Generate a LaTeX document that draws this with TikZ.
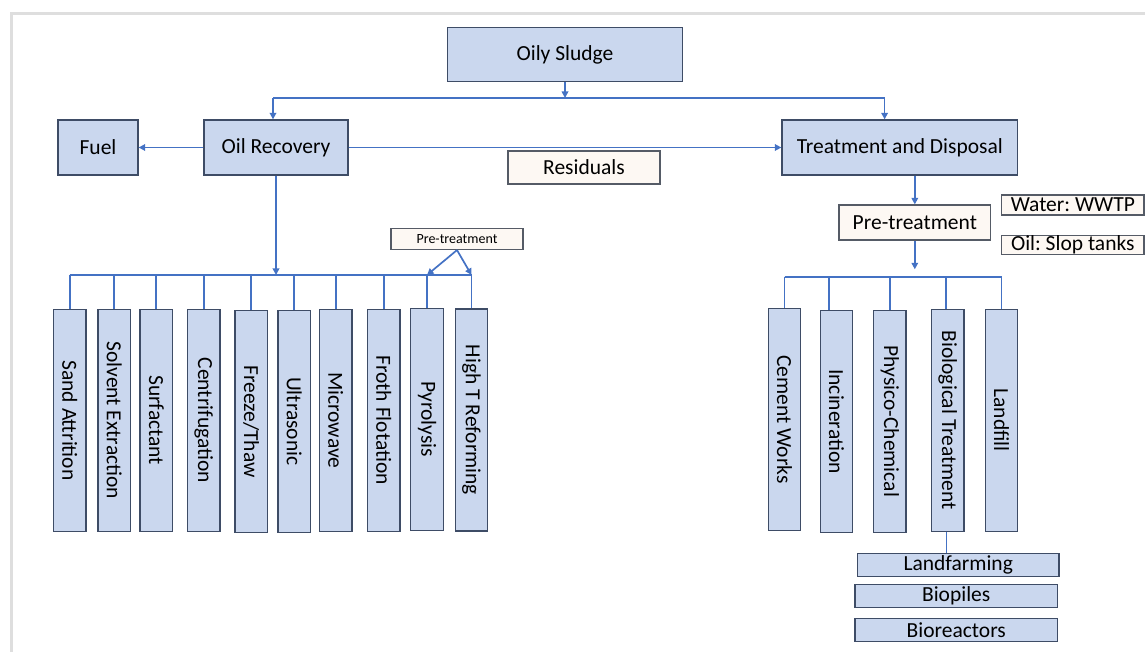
\documentclass[tikz,border=0pt]{standalone}
\usepackage{fontspec}
\setmainfont{Carlito}
\usetikzlibrary{arrows.meta,calc}
\definecolor{boxc}{HTML}{CAD7EE}
\definecolor{bordc}{HTML}{3E4C66}
\definecolor{connc}{HTML}{4472C4}
\definecolor{creamc}{HTML}{FDF8F3}
\definecolor{creamb}{HTML}{555B66}
\definecolor{framec}{HTML}{DEDEDE}
\begin{document}
\frenchspacing
\begin{tikzpicture}[x=1pt,y=-1pt,
  box/.style={draw=bordc,fill=boxc,line width=1.3pt,inner sep=0pt,font=\fontsize{21.5}{25}\selectfont},
  cream/.style={draw=creamb,fill=creamc,line width=1.2pt,inner sep=0pt,font=\fontsize{21.5}{25}\selectfont},
  vbox/.style={box,minimum width=32.4pt,minimum height=222pt},
  conn/.style={draw=connc,line width=1.7pt},
  tip/.style={-{Triangle[length=6.5pt,width=6.5pt]}}]
\useasboundingbox (0,0) rectangle (1145,652);
\draw[framec,line width=3pt] (11,652) -- (11,13.5) -- (1145,13.5);
% main boxes
\node[box,minimum width=235pt,minimum height=54pt] (sludge) at (565,54.5) {Oily Sludge};
\node[box,minimum width=80pt,minimum height=55pt] (fuel) at (98,147.5) {Fuel};
\node[box,minimum width=144pt,minimum height=55pt] (oilrec) at (276,147.5) {Oil Recovery};
\node[box,minimum width=235.6pt,minimum height=55pt] (treat) at (899.8,147.5) {Treatment and Disposal};
\node[cream,minimum width=152pt,minimum height=33pt] (resid) at (584,167.5) {Residuals};
\node[cream,minimum width=132pt,minimum height=21pt,font=\fontsize{14}{16}\selectfont] (pre1) at (457,239) {Pre-treatment};
\node[cream,minimum width=151.7pt,minimum height=35pt] (pre2) at (914.8,222.5) {Pre-treatment};
\node[cream,minimum width=142.3pt,minimum height=20pt] (water) at (1072.8,205) {Water: WWTP};
\node[cream,minimum width=142.3pt,minimum height=19.7pt] (oil) at (1072.8,245) {Oil: Slop tanks};
% left vertical boxes
\node[vbox] (b1) at (69.7,420.5) {\rotatebox{-90}{Sand Attrition}};
\node[vbox] (b2) at (114.2,420.2) {\rotatebox{-90}{Solvent Extraction}};
\node[vbox] (b3) at (156.3,420.2) {\rotatebox{-90}{Surfactant}};
\node[vbox] (b4) at (203.8,420.2) {\rotatebox{-90}{Centrifugation}};
\node[vbox] (b5) at (251.2,421.5) {\rotatebox{-90}{Freeze/Thaw}};
\node[vbox] (b6) at (294.3,421.3) {\rotatebox{-90}{Ultrasonic}};
\node[vbox] (b7) at (335.7,420.2) {\rotatebox{-90}{Microwave}};
\node[vbox] (b8) at (383.8,420.2) {\rotatebox{-90}{Froth Flotation}};
\node[vbox] (b9) at (427,419.2) {\rotatebox{-90}{Pyrolysis}};
\node[vbox] (b10) at (471.5,420) {\rotatebox{-90}{High T Reforming}};
% right vertical boxes
\node[vbox] (r1) at (784.5,419.5) {\rotatebox{-90}{Cement Works}};
\node[vbox] (r2) at (836.5,421.5) {\rotatebox{-90}{Incineration}};
\node[vbox] (r3) at (889.8,421.3) {\rotatebox{-90}{Physico-Chemical}};
\node[vbox] (r4) at (947.7,420.2) {\rotatebox{-90}{Biological Treatment}};
\node[vbox] (r5) at (1001.5,420.2) {\rotatebox{-90}{Landfill}};
% bottom boxes
\node[box,minimum width=201.7pt,minimum height=22.4pt] (lf) at (958.2,565) {Landfarming};
\node[box,minimum width=202.3pt,minimum height=22.4pt] (bp) at (956.2,596) {Biopiles};
\node[box,minimum width=202.3pt,minimum height=22.4pt] (br) at (956.2,630) {Bioreactors};
% coordinates
\coordinate (topbus) at (565,98);
\coordinate (tl) at (273,98);
\coordinate (tr) at (884.6,98);
\coordinate (lbus) at (0,275);
\coordinate (rbus) at (0,276.7);
\coordinate (rarr) at (914.8,269.3);
\coordinate (r2d) at (829,276.7);
% connectors
\draw[conn,tip] (sludge.south) -- (topbus);
\draw[conn] (tl) -- (tr);
\draw[conn,tip] (tl) -- (tl |- oilrec.north);
\draw[conn,tip] (tr) -- (tr |- treat.north);
\draw[conn,tip] (oilrec.west) -- (fuel.east);
\draw[conn,tip] (oilrec.east) -- (treat.west);
\draw[conn,tip] (oilrec.south) -- (oilrec.south |- lbus);
\draw[conn] (b1.north |- lbus) -- (b10.north |- lbus);
\foreach \i in {1,...,10} {\draw[conn] (b\i.north |- lbus) -- (b\i.north);}
\draw[conn,tip] (pre1.south) -- (b9.north |- lbus);
\draw[conn,tip] (pre1.south) -- (b10.north |- lbus);
\draw[conn,tip] (treat.south -| pre2.north) -- (pre2.north);
\draw[conn,tip] (pre2.south) -- (rarr);
\draw[conn] (r1.north |- rbus) -- (r5.north |- rbus);
\draw[conn] (r1.north |- rbus) -- (r1.north);
\draw[conn] (r2d) -- (r2d |- r2.north);
\draw[conn] (r3.north |- rbus) -- (r3.north);
\draw[conn] ([xshift=-2pt]r4.north |- rbus) -- ([xshift=-2pt]r4.north);
\draw[conn] (r5.north |- rbus) -- (r5.north);
\draw[conn,line width=1.2pt] ([xshift=-1pt]r4.south) -- ([xshift=-1pt]r4.south |- lf.north);
\end{tikzpicture}
\end{document}
